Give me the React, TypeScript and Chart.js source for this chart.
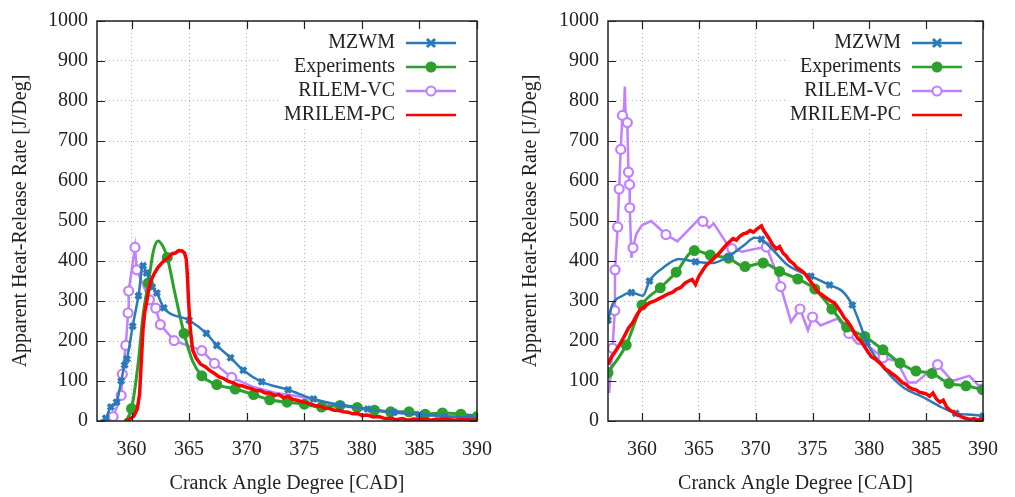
import React, { useEffect, useRef } from 'react';
import { Chart, registerables } from 'chart.js';
Chart.register(...registerables);

// ---------- tick labels / names ----------
const X_TICKS = [360, 365, 370, 375, 380, 385, 390];
const Y_TICKS = [0, 100, 200, 300, 400, 500, 600, 700, 800, 900, 1000];
const SERIES_NAMES = ['MZWM', 'Experiments', 'RILEM-VC', 'MRILEM-PC'];
const X_TITLE = 'Cranck Angle Degree [CAD]';
const Y_TITLE = 'Apparent Heat-Release Rate [J/Deg]';

// ---------- left panel data ----------
const leftMzwm: [number, number][] = [
  [357.3, 0], [357.76, 7], [358.2, 35], [358.7, 47], [359.1, 100], [359.4, 140], [359.6, 155],
  [360.1, 237], [360.6, 313], [361.0, 388], [361.3, 370], [361.8, 335], [362.2, 320], [362.8, 283],
  [365.0, 252], [366.5, 219], [367.4, 189], [368.6, 158], [369.7, 127], [371.3, 98], [373.6, 78],
  [375.8, 55], [378.2, 40], [380.5, 30], [382.8, 22], [385.0, 16], [387.2, 12], [389.3, 9], [390, 8],
];
const leftMzwmMarks = [1, 2, 3, 4, 5, 6, 7, 8, 9, 10, 11, 12, 13, 14, 15, 16, 17, 18, 19, 20, 21, 22, 23, 24, 25, 26, 27];

const leftExp: [number, number][] = [
  [359.5, 0], [360.0, 31], [360.6, 150], [361.0, 265], [361.46, 345], [361.9, 425], [362.3, 450],
  [362.7, 438], [363.1, 409], [363.8, 315], [364.56, 219], [365.3, 150], [366.1, 113], [367.4, 91],
  [369.0, 80], [370.6, 66], [372.0, 53], [373.5, 47], [375.0, 42], [376.5, 35], [378.1, 39],
  [379.6, 34], [381.1, 27], [382.5, 23], [384.1, 23], [385.5, 17], [387.0, 20], [388.6, 17], [390.0, 11],
];
const leftExpMarks = [1, 4, 8, 10, 12, 13, 14, 15, 16, 17, 18, 19, 20, 21, 22, 23, 24, 25, 26, 27, 28];

const leftRilem: [number, number][] = [
  [357.8, 0], [358.4, 11], [359.1, 64], [359.2, 117], [359.5, 189], [359.7, 270], [359.75, 325],
  [360.3, 434], [360.45, 378], [361.55, 303], [362.1, 282], [362.5, 241], [363.7, 201], [366.1, 176],
  [367.2, 144], [368.7, 109], [370.5, 86], [372.5, 70], [374.5, 62], [377, 44], [380, 30], [383, 20],
  [386, 14], [390, 8],
];
const leftRilemMarks = [1, 2, 3, 4, 5, 6, 7, 8, 9, 10, 11, 12, 13, 14, 15];

const leftMrilem: [number, number][] = [
  [359.4, 0], [359.8, 4], [360.2, 12], [360.5, 30], [360.7, 68], [360.85, 150], [361.0, 231],
  [361.15, 272], [361.3, 295], [361.5, 330], [361.7, 352], [362.0, 370], [362.3, 384], [362.6, 394],
  [362.9, 403], [363.2, 408], [363.5, 418], [363.8, 420], [364.1, 426], [364.4, 425], [364.6, 420],
  [364.75, 405], [364.85, 365], [364.95, 300], [365.1, 230], [365.3, 178], [365.6, 158], [366.0, 142],
  [366.4, 136], [366.8, 126], [367.2, 119], [367.6, 110], [368.0, 106], [368.4, 99], [368.8, 96],
  [369.2, 90], [369.6, 88], [370.0, 84], [370.4, 81], [370.8, 76], [371.2, 76], [371.6, 70],
  [372.0, 70], [372.4, 64], [372.8, 66], [373.2, 58], [373.6, 62], [374.0, 54], [374.4, 52],
  [374.8, 48], [375.2, 46], [375.6, 42], [376.0, 38], [376.4, 37], [376.8, 32], [377.2, 31],
  [377.6, 27], [378.0, 26], [378.4, 23], [378.8, 22], [379.2, 18], [379.6, 19], [380.0, 14],
  [380.5, 15], [381.0, 10], [381.5, 11], [382.0, 6], [382.5, 7], [383.0, 3], [383.5, 6], [384.0, 2],
  [384.5, 5], [385.0, 3], [385.5, 5], [386.0, 2], [386.5, 5], [387.0, 3], [387.5, 5], [388.0, 2],
  [388.5, 4], [389.0, 3], [389.5, 2], [390.0, 3],
];

// ---------- right panel data ----------
const rightMzwm: [number, number][] = [
  [357.0, 252], [357.4, 292], [358.2, 312], [359.06, 321], [360.07, 313], [360.65, 350], [361.8, 382],
  [363.26, 405], [364.7, 398], [366.16, 395], [367.6, 411], [369.0, 440], [369.9, 458], [370.5, 454],
  [371.6, 425], [372.8, 390], [374.85, 362], [376.5, 340], [377.6, 325], [378.5, 290], [379.1, 248],
  [379.8, 195], [381.5, 125], [383.0, 84], [384.7, 60], [386.3, 35], [387.6, 19], [389.3, 15], [390, 12],
];
const rightMzwmMarks = [0, 3, 5, 8, 10, 13, 16, 17, 19, 21, 26, 28];

const rightExp: [number, number][] = [
  [357.0, 121], [358.6, 190], [360.0, 290], [361.6, 333], [363.0, 372], [364.6, 426], [366.0, 415],
  [367.6, 407], [369.06, 386], [370.65, 395], [372.1, 374], [373.7, 355], [375.2, 330], [376.7, 280],
  [378.0, 235], [379.6, 211], [381.2, 178], [382.7, 145], [384.1, 125], [385.5, 119], [387.0, 94],
  [388.5, 88], [390.0, 78],
];
const rightExpMarks = [0, 1, 2, 3, 4, 5, 6, 7, 8, 9, 10, 11, 12, 13, 14, 15, 16, 17, 18, 19, 20, 21, 22];

const rightRilem: [number, number][] = [
  [357.1, 70], [357.4, 182], [357.6, 276], [357.62, 378], [357.85, 485], [357.98, 580], [358.12, 679],
  [358.27, 764], [358.4, 772], [358.48, 836], [358.55, 765], [358.7, 746], [358.8, 622], [358.9, 591],
  [358.92, 533], [359.06, 408], [359.2, 433], [359.5, 468], [360.0, 490], [360.8, 500], [361.5, 482],
  [362.1, 466], [363.1, 449], [365.15, 509], [365.35, 499], [365.9, 483], [366.3, 494], [367.6, 437],
  [367.9, 431], [368.8, 423], [369.9, 430], [370.94, 435], [371.96, 362], [372.2, 336], [373.1, 248],
  [373.9, 280], [374.6, 227], [375.0, 260], [375.7, 239], [377.2, 256], [378.2, 219], [378.9, 194],
  [379.8, 190], [381.2, 158], [382.4, 150], [383.4, 96], [384.1, 96], [386.0, 141], [387.3, 100],
  [388.8, 113], [389.9, 80],
];
const rightRilemMarks = [1, 2, 3, 4, 5, 6, 7, 11, 12, 13, 14, 16, 21, 24, 28, 31, 33, 35, 37, 40, 43, 47, 50];

const rightMrilem: [number, number][] = [
  [357.0, 141], [357.3, 160], [357.6, 172], [358.0, 190], [358.4, 210], [358.8, 232], [359.2, 247],
  [359.6, 268], [359.9, 280], [360.3, 288], [360.7, 296], [361.1, 300], [361.5, 306], [361.9, 312],
  [362.3, 318], [362.7, 322], [363.0, 329], [363.4, 334], [363.8, 345], [364.1, 350], [364.4, 354],
  [364.7, 341], [365.0, 362], [365.3, 375], [365.6, 388], [365.9, 396], [366.2, 403], [366.5, 412],
  [366.8, 420], [367.1, 430], [367.4, 440], [367.7, 448], [368.0, 456], [368.3, 452], [368.6, 462],
  [368.9, 468], [369.2, 470], [369.5, 476], [369.8, 472], [370.1, 480], [370.3, 484], [370.5, 488],
  [370.7, 476], [370.9, 468], [371.2, 455], [371.5, 440], [371.8, 430], [372.1, 436], [372.4, 420],
  [372.7, 412], [373.0, 400], [373.3, 394], [373.6, 384], [373.9, 378], [374.2, 372], [374.5, 362],
  [374.8, 350], [375.1, 338], [375.4, 325], [375.7, 318], [376.0, 312], [376.3, 306], [376.6, 300],
  [376.9, 296], [377.2, 285], [377.5, 272], [377.8, 258], [378.1, 248], [378.4, 235], [378.7, 220],
  [379.0, 206], [379.3, 198], [379.6, 185], [379.9, 172], [380.2, 160], [380.5, 155], [380.8, 148],
  [381.1, 140], [381.4, 130], [381.7, 125], [382.0, 118], [382.3, 112], [382.6, 104], [382.9, 96],
  [383.2, 92], [383.5, 84], [383.8, 80], [384.1, 78], [384.4, 72], [384.7, 70], [385.0, 68],
  [385.3, 62], [385.6, 70], [385.9, 55], [386.2, 47], [386.5, 52], [386.8, 35], [387.1, 27],
  [387.4, 22], [387.7, 16], [388.0, 12], [388.3, 8], [388.6, 6], [388.9, 4], [389.2, 6], [389.5, 3],
  [389.8, 4], [390.0, 3],
];

// ---------- styles ----------
const BLUE = '#2a7ab9';
const GREEN = '#2ca02c';
const PURPLE = '#c080ff';
const RED = '#ff0000';
const TEXT = '#222222';
const FONT = '"Liberation Serif", "Times New Roman", serif';
const FONT_SIZE = 20;

type Pt = [number, number];
interface PanelData {
  mzwm: Pt[]; mzwmMarks: number[];
  exp: Pt[]; expMarks: number[];
  rilem: Pt[]; rilemMarks: number[];
  mrilem: Pt[];
}

const toXY = (arr: Pt[]) => arr.map(([x, y]) => ({ x, y }));
const markRadius = (marks: number[], r: number) => (ctx: any) => (marks.includes(ctx.dataIndex) ? r : 0);

function drawMarker(ctx: CanvasRenderingContext2D, kind: string, x: number, y: number, color: string) {
  ctx.save();
  ctx.setLineDash([]);
  if (kind === 'star') {
    ctx.strokeStyle = color;
    ctx.lineWidth = 3;
    const r = 4;
    ctx.beginPath();
    ctx.moveTo(x - r, y - r); ctx.lineTo(x + r, y + r);
    ctx.moveTo(x - r, y + r); ctx.lineTo(x + r, y - r);
    ctx.stroke();
  } else if (kind === 'dot') {
    ctx.fillStyle = color;
    ctx.beginPath(); ctx.arc(x, y, 5.5, 0, Math.PI * 2); ctx.fill();
  } else if (kind === 'ring') {
    ctx.fillStyle = '#ffffff';
    ctx.strokeStyle = color;
    ctx.lineWidth = 2;
    ctx.beginPath(); ctx.arc(x, y, 4.5, 0, Math.PI * 2); ctx.fill(); ctx.stroke();
  }
  ctx.restore();
}

const frameKeyPlugin = {
  id: 'gnuFrameKey',
  afterDatasetsDraw(chart: any) {
    const { ctx, chartArea: a, scales } = chart;
    ctx.save();
    // opaque key
    ctx.fillStyle = '#ffffff';
    ctx.fillRect(a.right - 197, a.top, 197, 107);
    ctx.font = `${FONT_SIZE}px ${FONT}`;
    ctx.textAlign = 'right';
    ctx.textBaseline = 'middle';
    chart.data.datasets.forEach((ds: any, i: number) => {
      const y = a.top + 22 + i * 24;
      ctx.fillStyle = TEXT;
      ctx.fillText(ds.label, a.right - 82, y);
      ctx.setLineDash([]);
      ctx.strokeStyle = ds.borderColor;
      ctx.lineWidth = 2.5;
      ctx.beginPath();
      ctx.moveTo(a.right - 71, y);
      ctx.lineTo(a.right - 21, y);
      ctx.stroke();
      if (ds.keyMarker) drawMarker(ctx, ds.keyMarker, a.right - 46, y, ds.borderColor);
    });
    // inward ticks
    ctx.strokeStyle = TEXT;
    ctx.lineWidth = 1.2;
    ctx.setLineDash([]);
    const L = 8;
    ctx.beginPath();
    X_TICKS.forEach((v) => {
      const px = Math.round(scales.x.getPixelForValue(v)) + 0.5;
      ctx.moveTo(px, a.bottom); ctx.lineTo(px, a.bottom - L);
      ctx.moveTo(px, a.top); ctx.lineTo(px, a.top + L);
    });
    Y_TICKS.forEach((v) => {
      const py = Math.round(scales.y.getPixelForValue(v)) + 0.5;
      ctx.moveTo(a.left, py); ctx.lineTo(a.left + L, py);
      ctx.moveTo(a.right, py); ctx.lineTo(a.right - L, py);
    });
    ctx.stroke();
    // frame
    ctx.lineWidth = 1.5;
    ctx.strokeRect(a.left, a.top, a.right - a.left, a.bottom - a.top);
    ctx.restore();
  },
};

function buildConfig(p: PanelData, yAxisWidth: number, padRight: number): any {
  const font = { family: FONT, size: FONT_SIZE };
  return {
    type: 'line',
    data: {
      datasets: [
        {
          label: SERIES_NAMES[0], data: toXY(p.mzwm), borderColor: BLUE, backgroundColor: BLUE,
          borderWidth: 2.5, pointStyle: 'crossRot', pointRadius: markRadius(p.mzwmMarks, 4), pointBorderWidth: 3.5,
          pointBorderColor: BLUE, cubicInterpolationMode: 'monotone', tension: 0.4, order: 1, keyMarker: 'star',
        },
        {
          label: SERIES_NAMES[1], data: toXY(p.exp), borderColor: GREEN, backgroundColor: GREEN,
          borderWidth: 3, pointStyle: 'circle', pointRadius: markRadius(p.expMarks, 5.5), pointBorderWidth: 0,
          cubicInterpolationMode: 'monotone', tension: 0.4, order: 2, keyMarker: 'dot',
        },
        {
          label: SERIES_NAMES[2], data: toXY(p.rilem), borderColor: PURPLE, backgroundColor: '#ffffff',
          borderWidth: 2.5, pointStyle: 'circle', pointRadius: markRadius(p.rilemMarks, 4.5), pointBorderWidth: 2.2,
          pointBorderColor: PURPLE, pointBackgroundColor: '#ffffff', tension: 0, order: 3, keyMarker: 'ring',
        },
        {
          label: SERIES_NAMES[3], data: toXY(p.mrilem), borderColor: RED, backgroundColor: RED,
          borderWidth: 3.5, pointRadius: 0, tension: 0, order: 0, keyMarker: null,
        },
      ],
    },
    options: {
      animation: false,
      responsive: false,
      maintainAspectRatio: false,
      events: [],
      layout: { padding: { left: 0, right: padRight, top: 13, bottom: 0 } },
      plugins: { legend: { display: false }, tooltip: { enabled: false }, title: { display: false } },
      scales: {
        x: {
          type: 'linear', min: 357, max: 390,
          afterBuildTicks: (axis: any) => { axis.ticks = X_TICKS.map((v) => ({ value: v })); },
          afterFit: (axis: any) => { axis.height = 76; },
          ticks: { font, color: TEXT, padding: 17, autoSkip: false, maxRotation: 0, callback: (v: any) => String(v) },
          grid: { color: '#b8b8b8', lineWidth: 1, drawTicks: false, tickLength: 0 },
          border: { display: false, dash: [1, 3] },
          title: { display: true, text: X_TITLE, font, color: TEXT, padding: { top: 0, bottom: 1 } },
        },
        y: {
          type: 'linear', min: 0, max: 1000,
          afterBuildTicks: (axis: any) => { axis.ticks = Y_TICKS.map((v) => ({ value: v })); },
          afterFit: (axis: any) => { axis.width = yAxisWidth; },
          ticks: { font, color: TEXT, padding: 9, autoSkip: false, callback: (v: any) => String(v) },
          grid: { color: '#b8b8b8', lineWidth: 1, drawTicks: false, tickLength: 0 },
          border: { display: false, dash: [1, 3] },
          title: { display: true, text: Y_TITLE, font, color: TEXT, padding: { top: 9, bottom: 0 } },
        },
      },
    },
    plugins: [frameKeyPlugin],
  };
}

function Panel(props: { left: number; width: number; data: PanelData; yAxisWidth: number; padRight: number }) {
  const ref = useRef<HTMLCanvasElement | null>(null);
  useEffect(() => {
    if (!ref.current) return;
    const chart = new Chart(ref.current, buildConfig(props.data, props.yAxisWidth, props.padRight));
    return () => chart.destroy();
  }, []);
  return (
    <canvas
      ref={ref}
      width={props.width}
      height={497}
      style={{ position: 'absolute', left: props.left, top: 0, width: props.width, height: 497 }}
    />
  );
}

const LEFT: PanelData = {
  mzwm: leftMzwm, mzwmMarks: leftMzwmMarks,
  exp: leftExp, expMarks: leftExpMarks,
  rilem: leftRilem, rilemMarks: leftRilemMarks,
  mrilem: leftMrilem,
};
const RIGHT: PanelData = {
  mzwm: rightMzwm, mzwmMarks: rightMzwmMarks,
  exp: rightExp, expMarks: rightExpMarks,
  rilem: rightRilem, rilemMarks: rightRilemMarks,
  mrilem: rightMrilem,
};

export default function App() {
  return (
    <div style={{ position: 'fixed', left: 0, top: 0, width: 1015, height: 497, background: '#ffffff' }}>
      <Panel left={0} width={510} data={LEFT} yAxisWidth={97} padRight={33} />
      <Panel left={510} width={505} data={RIGHT} yAxisWidth={98} padRight={27} />
    </div>
  );
}
